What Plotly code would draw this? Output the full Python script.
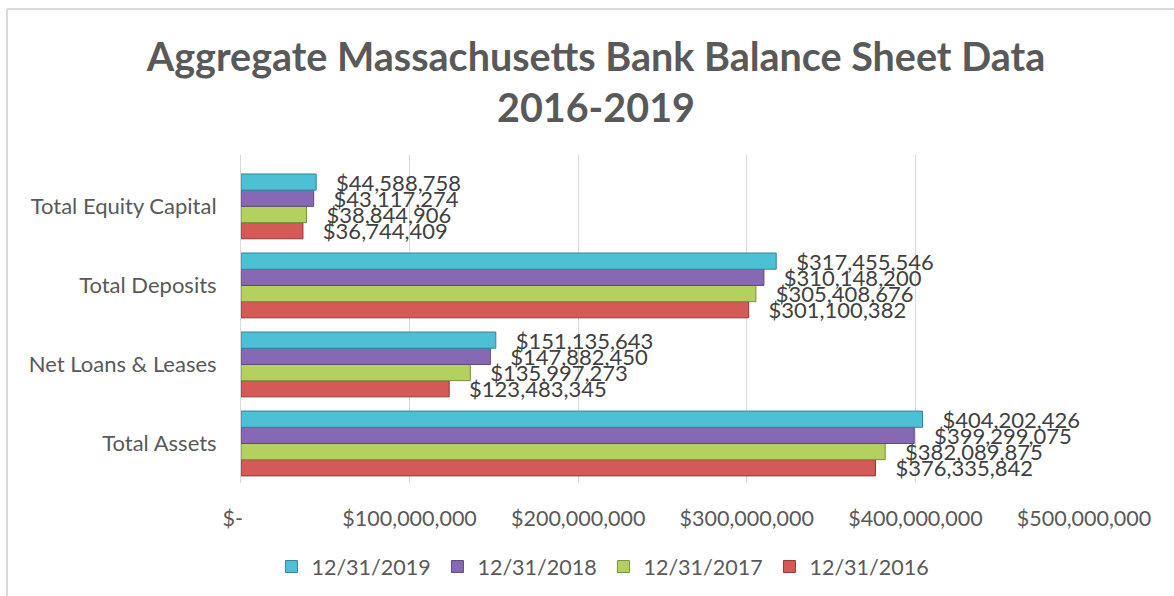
import plotly.graph_objects as go

categories = ["Total Assets", "Net Loans & Leases", "Total Deposits", "Total Equity Capital"]
series_names = ["12/31/2016", "12/31/2017", "12/31/2018", "12/31/2019"]
values_2016 = [376335842, 123483345, 301100382, 36744409]
values_2017 = [382089875, 135997273, 305408676, 38844906]
values_2018 = [399299075, 147882450, 310148200, 43117274]
values_2019 = [404202426, 151135643, 317455546, 44588758]
tick_vals = [0, 100000000, 200000000, 300000000, 400000000, 500000000]
tick_text = ["$-\u00a0\u00a0\u00a0", "$100,000,000", "$200,000,000", "$300,000,000", "$400,000,000", "$500,000,000"]

series_values = [values_2016, values_2017, values_2018, values_2019]
fills = ["#D35A56", "#B4D160", "#8668B4", "#4EC0D5"]
edges = ["#953735", "#76923C", "#5F497A", "#31859C"]

FONT = "Lato, 'Open Sans', sans-serif"

fig = go.Figure()
for name, vals, fc, ec in zip(series_names, series_values, fills, edges):
    fig.add_trace(go.Bar(
        y=categories, x=vals, name=name, orientation="h",
        marker=dict(color=fc, line=dict(color=ec, width=1)),
        text=["\u00a0\u00a0\u00a0" + "${:,}".format(v) for v in vals],
        textposition="outside", constraintext="none", cliponaxis=False,
        textfont=dict(family=FONT, size=22, color="#404040"),
        hoverinfo="x+name",
    ))

fig.update_layout(
    width=1174, height=596,
    paper_bgcolor="white", plot_bgcolor="white",
    barmode="group", bargap=0.18, bargroupgap=0,
    margin=dict(l=241, r=90, t=155, b=113),
    title=dict(
        text="Aggregate Massachusetts Bank Balance Sheet Data<br>2016-2019",
        x=(596 - 241) / 843, xref="paper", xanchor="center", y=0.881, yanchor="top",
        font=dict(family=FONT, size=39.5, color="#595959", weight="bold"),
    ),
    font=dict(family=FONT, size=21, color="#595959"),
    legend=dict(
        orientation="h", x=0.514, xref="container", xanchor="center",
        y=0.015, yref="container", yanchor="bottom",
        traceorder="reversed", font=dict(family=FONT, size=21.5, color="#595959"),
        itemwidth=30, entrywidth=121,
    ),
    xaxis=dict(
        range=[0, 500000000], tickvals=tick_vals, ticktext=tick_text,
        showgrid=True, gridcolor="#D9D9D9", gridwidth=1,
        zeroline=False, showline=False, ticks="", ticklabelstandoff=20,
        tickfont=dict(family=FONT, size=21.5, color="#595959"),
    ),
    yaxis=dict(
        categoryorder="array", categoryarray=categories,
        range=[-0.5, 3.65], showgrid=False, zeroline=False,
        showline=True, linecolor="#D9D9D9", linewidth=1, ticks="",
        ticklabelstandoff=19,
        tickfont=dict(family=FONT, size=22, color="#595959"),
    ),
    shapes=[
        dict(type="line", xref="paper", yref="paper", x0=-234/843, x1=-234/843, y0=-2, y1=(596-9-113)/328,
             line=dict(color="#D9D9D9", width=2)),
        dict(type="line", xref="paper", yref="paper", x0=-234/843, x1=1.2, y0=(596-9-113)/328, y1=(596-9-113)/328,
             line=dict(color="#D9D9D9", width=2)),
    ],
)

fig.write_html("out.html", config={"displayModeBar": False},
               post_script="document.body.style.margin='0';document.body.style.padding='0';")
